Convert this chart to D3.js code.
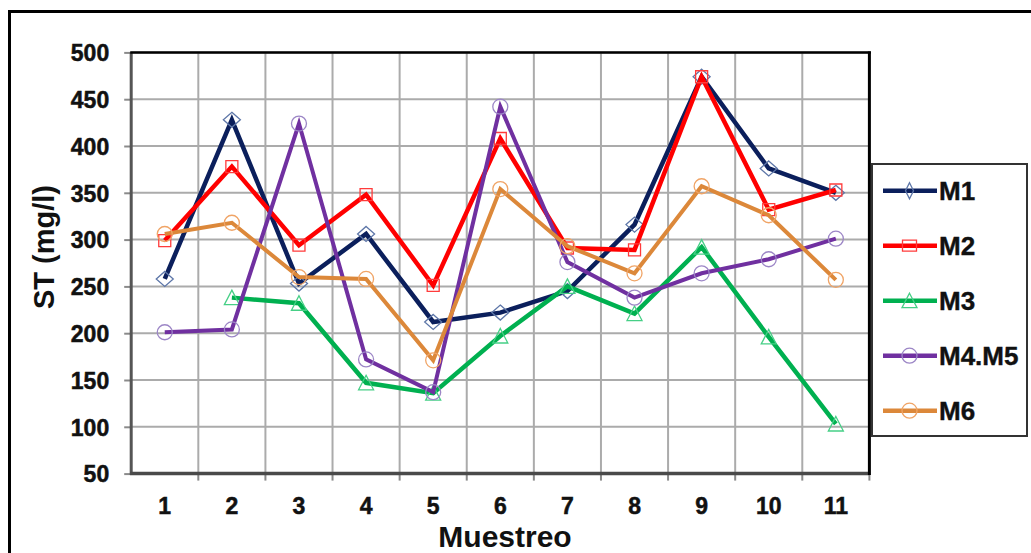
<!DOCTYPE html>
<html>
<head>
<meta charset="utf-8">
<script src="https://cdn.jsdelivr.net/npm/d3@7"></script>
<style>
  html, body { margin: 0; padding: 0; background: #ffffff; }
  svg { display: block; }
  text { font-family: "Liberation Sans", Arial, sans-serif; }
</style>
</head>
<body>
<svg id="chart" width="1031" height="553"></svg>
<script>
// Sampling campaigns on the x axis
const categories = ["1", "2", "3", "4", "5", "6", "7", "8", "9", "10", "11"];

// Total solids (mg/l) per monitoring site
const seriesNames = ["M1", "M2", "M3", "M4.M5", "M6"];
const valuesM1  = [258, 428, 253, 306, 212, 222, 245, 316, 474, 376, 350];
const valuesM2  = [299, 378, 294, 348, 251, 408, 291, 289, 474, 332, 353];
const valuesM3  = [null, 238, 232, 147, 136, 197, 250, 221, 292, 196, 103];
const valuesM45 = [201, 204, 424, 172, 137, 442, 276, 238, 264, 279, 301];
const valuesM6  = [306, 318, 260, 258, 171, 354, 293, 264, 357, 326, 257];

// Y axis tick labels
const yTicks = [50, 100, 150, 200, 250, 300, 350, 400, 450, 500];

const yTitle = "ST (mg/l)";
const xTitle = "Muestreo";

// Presentation of each series
const seriesStyle = [
  { line: "#0b1f5c", marker: "#5d76a8", shape: "diamond", width: 4.5 },
  { line: "#ff0000", marker: "#ff3b3b", shape: "square",  width: 4.5 },
  { line: "#00b050", marker: "#46cf86", shape: "triangle", width: 4.5 },
  { line: "#7030a0", marker: "#9c86c6", shape: "circle",  width: 4 },
  { line: "#dc883a", marker: "#f0a466", shape: "circle",  width: 4 }
];
const seriesValues = [valuesM1, valuesM2, valuesM3, valuesM45, valuesM6];

const svg = d3.select("#chart");
const plot = { left: 131.2, right: 869.4, top: 52.4, bottom: 473.6 };

const x = d3.scaleBand().domain(categories).range([plot.left, plot.right]).padding(0);
const y = d3.scaleLinear().domain([50, 500]).range([plot.bottom, plot.top]);
const cx = c => x(c) + x.bandwidth() / 2;

// Outer frame of the chart object
svg.append("rect")
  .attr("x", 9.5).attr("y", 11.5)
  .attr("width", 1060).attr("height", 600)
  .attr("fill", "#ffffff").attr("stroke", "#000000").attr("stroke-width", 3);

// Horizontal gridlines
svg.append("g")
  .selectAll("line")
  .data(yTicks.slice(1))
  .join("line")
  .attr("x1", plot.left).attr("x2", plot.right)
  .attr("y1", d => y(d)).attr("y2", d => y(d))
  .attr("stroke", "#ababab").attr("stroke-width", 2);

// Vertical gridlines at category boundaries
svg.append("g")
  .selectAll("line")
  .data(categories.slice(1))
  .join("line")
  .attr("x1", d => x(d)).attr("x2", d => x(d))
  .attr("y1", plot.top).attr("y2", plot.bottom)
  .attr("stroke", "#ababab").attr("stroke-width", 2);

// Y axis
const yAxis = svg.append("g")
  .attr("transform", `translate(${plot.left},0)`)
  .call(d3.axisLeft(y).tickValues(yTicks).tickSize(7).tickPadding(15));
yAxis.select(".domain").remove();
yAxis.selectAll(".tick line").attr("stroke", "#8a8a8a").attr("stroke-width", 2);
yAxis.selectAll(".tick text")
  .attr("font-size", 23).attr("font-weight", "bold").attr("fill", "#111111")
  .attr("stroke", "#111111").attr("stroke-width", 0.5)
  .attr("dy", "0.36em");

// X axis: labels centred in bands, tick marks on boundaries
const xAxis = svg.append("g")
  .attr("transform", `translate(0,${plot.bottom})`)
  .call(d3.axisBottom(x).tickSize(0));
xAxis.select(".domain").remove();
xAxis.selectAll(".tick text")
  .attr("y", 40).attr("dy", 0)
  .attr("font-size", 23).attr("font-weight", "bold").attr("fill", "#111111")
  .attr("stroke", "#111111").attr("stroke-width", 0.5);
svg.append("g")
  .selectAll("line")
  .data(categories.slice(1).map(c => x(c)).concat([plot.right]))
  .join("line")
  .attr("x1", d => d).attr("x2", d => d)
  .attr("y1", plot.bottom).attr("y2", plot.bottom + 7)
  .attr("stroke", "#8a8a8a").attr("stroke-width", 2);

// Axis lines and plot border
svg.append("line")
  .attr("x1", plot.left).attr("x2", plot.left)
  .attr("y1", plot.top).attr("y2", plot.bottom + 1.5)
  .attr("stroke", "#555555").attr("stroke-width", 3);
svg.append("line")
  .attr("x1", plot.left - 1).attr("x2", plot.right)
  .attr("y1", plot.bottom).attr("y2", plot.bottom)
  .attr("stroke", "#4a4a4a").attr("stroke-width", 3.5);
svg.append("line")
  .attr("x1", plot.left - 1).attr("x2", plot.right + 1.5)
  .attr("y1", plot.top).attr("y2", plot.top)
  .attr("stroke", "#000000").attr("stroke-width", 2.5);
svg.append("line")
  .attr("x1", plot.right).attr("x2", plot.right)
  .attr("y1", plot.top - 1).attr("y2", plot.bottom + 1.5)
  .attr("stroke", "#000000").attr("stroke-width", 3);

// Marker outlines
function markerPath(shape, legend) {
  const p = d3.path();
  if (shape === "diamond") {
    const w = legend ? 4 : 8.5, h = legend ? 8 : 7.5;
    p.moveTo(0, -h); p.lineTo(w, 0); p.lineTo(0, h); p.lineTo(-w, 0); p.closePath();
  } else if (shape === "square") {
    const w = legend ? 7 : 6, h = legend ? 5.5 : 6;
    p.rect(-w, -h, 2 * w, 2 * h);
  } else if (shape === "triangle") {
    p.moveTo(0, -7.5); p.lineTo(7.5, 7); p.lineTo(-7.5, 7); p.closePath();
  } else {
    p.arc(0, 0, 7.5, 0, 2 * Math.PI);
  }
  return p.toString();
}

// Series lines and markers
const line = d3.line()
  .defined(d => d.v !== null)
  .x(d => cx(d.c))
  .y(d => y(d.v));

seriesValues.forEach((vals, i) => {
  const st = seriesStyle[i];
  const pts = categories.map((c, k) => ({ c, v: vals[k] }));
  const g = svg.append("g").attr("class", "series");
  g.append("path")
    .datum(pts)
    .attr("d", line)
    .attr("fill", "none")
    .attr("stroke", st.line)
    .attr("stroke-width", st.width)
    .attr("stroke-linejoin", "miter");
  g.selectAll("path.mk")
    .data(pts.filter(d => d.v !== null))
    .join("path")
    .attr("class", "mk")
    .attr("transform", d => `translate(${cx(d.c)},${y(d.v)})`)
    .attr("d", markerPath(st.shape, false))
    .attr("fill", "none")
    .attr("stroke", st.marker)
    .attr("stroke-width", 1.3);
});

// Axis titles
svg.append("text")
  .attr("transform", "translate(53.5,247) rotate(-90)")
  .attr("text-anchor", "middle")
  .attr("font-size", 29).attr("font-weight", "bold").attr("fill", "#111111")
  .text(yTitle);
svg.append("text")
  .attr("x", 505).attr("y", 547)
  .attr("text-anchor", "middle")
  .attr("font-size", 30).attr("font-weight", "bold").attr("fill", "#111111")
  .text(xTitle);

// Legend
const legend = svg.append("g");
legend.append("rect")
  .attr("x", 872).attr("y", 164)
  .attr("width", 155).attr("height", 272)
  .attr("fill", "#ffffff").attr("stroke", "#333333").attr("stroke-width", 2);
const items = legend.selectAll("g.item")
  .data(seriesNames)
  .join("g")
  .attr("class", "item")
  .attr("transform", (d, i) => `translate(0,${190.7 + i * 55})`);
items.append("line")
  .attr("x1", 883).attr("x2", 937)
  .attr("y1", 0).attr("y2", 0)
  .attr("stroke", (d, i) => seriesStyle[i].line)
  .attr("stroke-width", 4.5);
items.append("path")
  .attr("transform", "translate(909.5,0)")
  .attr("d", (d, i) => markerPath(seriesStyle[i].shape, true))
  .attr("fill", "none")
  .attr("stroke", (d, i) => seriesStyle[i].marker)
  .attr("stroke-width", 1.3);
items.append("text")
  .attr("x", 939).attr("y", 9.3)
  .attr("font-size", 26).attr("font-weight", "bold").attr("fill", "#111111")
  .attr("stroke", "#111111").attr("stroke-width", 0.4)
  .text(d => d);
</script>
</body>
</html>
